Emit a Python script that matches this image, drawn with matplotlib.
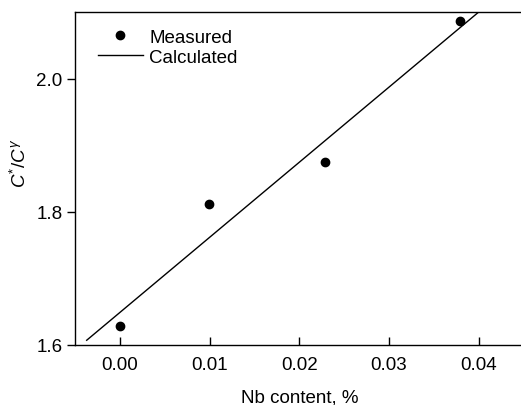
import matplotlib
matplotlib.use('Agg')
import matplotlib.pyplot as plt

# measured points
nb_measured = [0.0, 0.0099, 0.0229, 0.0379]
ratio_measured = [1.629, 1.812, 1.874, 2.087]

# calculated line (end points)
nb_calc = [-0.0037, 0.0400]
ratio_calc = [1.607, 2.100]

x_ticks = [0.00, 0.01, 0.02, 0.03, 0.04]
y_ticks = [1.6, 1.8, 2.0]


def main():
    plt.rcParams['font.family'] = ['Liberation Sans', 'DejaVu Sans']
    plt.rcParams['mathtext.fontset'] = 'custom'
    plt.rcParams['mathtext.it'] = 'Liberation Sans:italic'
    plt.rcParams['mathtext.rm'] = 'Liberation Sans'
    fs = 13.5

    fig = plt.figure(figsize=(5.21, 4.06), dpi=100)
    ax = fig.add_axes([0.144, 0.148, 0.861, 0.820])

    ax.plot(nb_measured, ratio_measured, 'o', color='black', ms=6, label='Measured')
    ax.plot(nb_calc, ratio_calc, '-', color='black', lw=1.0, label='Calculated')

    ax.set_xlim(-0.005, 0.045)
    ax.set_ylim(1.6, 2.1)
    ax.set_xticks(x_ticks)
    ax.set_xticklabels(['{:.2f}'.format(v) for v in x_ticks])
    ax.set_yticks(y_ticks)
    ax.set_yticklabels(['{:.1f}'.format(v) for v in y_ticks])

    ax.tick_params(axis='x', direction='in', length=6, width=1, labelsize=fs, pad=8)
    ax.tick_params(axis='y', direction='out', length=6, width=1, labelsize=fs, pad=3)
    for s in ax.spines.values():
        s.set_linewidth(1.0)

    ax.set_xlabel('Nb content, %', fontsize=fs, labelpad=11)
    ax.set_ylabel(r'$C^{*}/C^{\gamma}$', fontsize=fs)
    ax.yaxis.set_label_coords(-0.10, 0.55)

    ax.legend(loc='upper left', bbox_to_anchor=(0.051, 0.95), frameon=False,
              fontsize=fs, handlelength=2.4, handletextpad=0.35, labelspacing=0.15,
              borderpad=0, borderaxespad=0)

    fig.savefig('out.png', dpi=100)


if __name__ == '__main__':
    main()
